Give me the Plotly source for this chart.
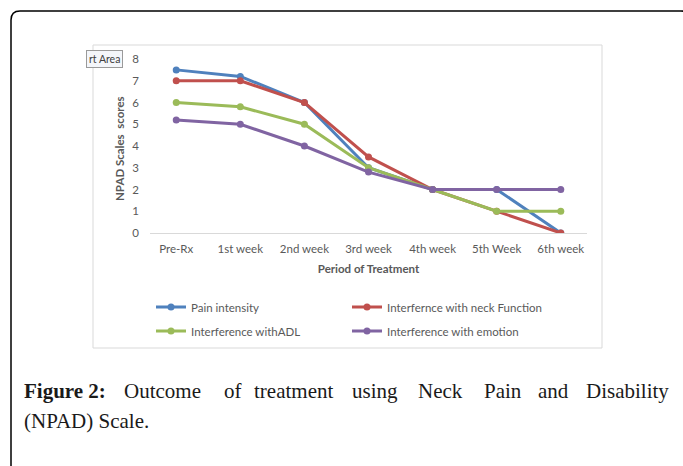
import plotly.graph_objects as go

categories = ["Pre-Rx", "1st week", "2nd week", "3rd week", "4th week", "5th Week", "6th week"]
pain_intensity = [7.5, 7.2, 6, 3, 2, 2, 0]
neck_function = [7, 7, 6, 3.5, 2, 1, 0]
adl = [6, 5.8, 5, 3, 2, 1, 1]
emotion = [5.2, 5, 4, 2.8, 2, 2, 2]
series_names = ["Pain intensity", "Interfernce with neck Function",
                "Interference withADL", "Interference with emotion"]
series_colors = ["#4F81BD", "#C0504D", "#9BBB59", "#8064A2"]
y_ticks = [0, 1, 2, 3, 4, 5, 6, 7, 8]

WIDTH, HEIGHT = 683, 466
L, R, T, B = 150, 96, 59, 233
PW, PH = WIDTH - L - R, HEIGHT - T - B


def fx(px):
    return (px - L) / PW


def fy(py):
    return (HEIGHT - B - py) / PH


FONT = "Lato"
GRAY = "#595959"

fig = go.Figure()
legend_ids = ["legend", "legend2", "legend3", "legend4"]
for name, vals, col, lg in zip(series_names, [pain_intensity, neck_function, adl, emotion],
                               series_colors, legend_ids):
    fig.add_trace(go.Scatter(
        x=categories, y=vals, name=name, mode="lines+markers",
        line=dict(color=col, width=3), marker=dict(color=col, size=7),
        legend=lg,
    ))

legend_pos = [(151, 307), (347, 307), (151, 331), (347, 331)]
leg_layout = {}
for lg, (px, py) in zip(legend_ids, legend_pos):
    leg_layout[lg] = dict(
        xref="container", yref="container", x=px / WIDTH, y=1 - py / HEIGHT,
        xanchor="left", yanchor="middle", bgcolor="rgba(0,0,0,0)",
        font=dict(family=FONT, size=11.5, color=GRAY), itemwidth=30,
    )

fig.update_layout(
    width=WIDTH, height=HEIGHT,
    margin=dict(l=L, r=R, t=T, b=B, autoexpand=False),
    paper_bgcolor="white", plot_bgcolor="white",
    showlegend=True,
    **leg_layout,
    xaxis=dict(
        type="category", showgrid=False, zeroline=False,
        showline=True, linecolor="#D9D9D9", linewidth=1,
        tickfont=dict(family=FONT, size=11.5, color=GRAY),
        ticklabelstandoff=5,
        title=dict(text="<b>Period of Treatment</b>", standoff=11,
                   font=dict(family=FONT, size=11.5, color=GRAY)),
    ),
    yaxis=dict(
        range=[0, 8], tickvals=y_ticks, showgrid=False, zeroline=False,
        showline=False,
        tickfont=dict(family=FONT, size=11.5, color=GRAY),
        ticklabelstandoff=10,
    ),
)

# y axis title
fig.add_annotation(xref="paper", yref="paper", x=fx(119), y=fy(149),
                   xanchor="center", yanchor="middle", textangle=-90,
                   text="<b>NPAD Scales  scores</b>", showarrow=False,
                   font=dict(family=FONT, size=11.5, color=GRAY))

# chart area box
fig.add_shape(type="rect", xref="paper", yref="paper",
              x0=fx(93), x1=fx(602), y0=fy(348), y1=fy(45),
              line=dict(color="#D9D9D9", width=1), layer="below")

# outer rounded frame (right side runs past the page edge)
r = 9
path = (f"M {fx(11)},{fy(480)} L {fx(11)},{fy(11 + r)} "
        f"Q {fx(11)},{fy(11)} {fx(11 + r)},{fy(11)} "
        f"L {fx(681)},{fy(11)} Q {fx(690)},{fy(11)} {fx(690)},{fy(11 + r)} "
        f"L {fx(690)},{fy(480)}")
fig.add_shape(type="path", xref="paper", yref="paper", path=path,
              line=dict(color="black", width=1.5))

# "Chart Area" tooltip remnant
fig.add_annotation(xref="paper", yref="paper", x=fx(123), y=fy(59),
                   xanchor="right", yanchor="middle", text="rt Area",
                   showarrow=False, font=dict(family=FONT, size=10.5, color="#404040"),
                   bgcolor="#F4F6FA", bordercolor="#9A9A9A", borderwidth=1, borderpad=2)

# caption
cap_font = dict(family="Liberation Serif", size=21, color="#1a1a1a")
line1 = [("<b>Figure 2:</b>", 22), ("Outcome", 122), ("of", 222), ("treatment", 252),
         ("using", 350), ("Neck", 416), ("Pain", 482), ("and", 536), ("Disability", 584)]
for word, px in line1:
    fig.add_annotation(xref="paper", yref="paper", x=fx(px), y=fy(391),
                       xanchor="left", yanchor="middle", text=word, showarrow=False,
                       font=cap_font)
fig.add_annotation(xref="paper", yref="paper", x=fx(22), y=fy(421),
                   xanchor="left", yanchor="middle", text="(NPAD) Scale.",
                   showarrow=False, font=cap_font)

fig.write_html("out.html", config={"displayModeBar": False},
               post_script="document.body.style.margin='0';")
